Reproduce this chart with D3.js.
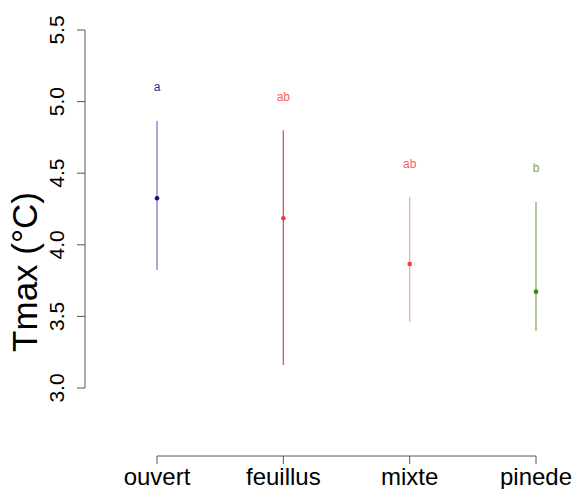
<!DOCTYPE html>
<html>
<head>
<meta charset="utf-8">
<script src="https://cdn.jsdelivr.net/npm/d3@7"></script>
<style>
  body { margin: 0; background: #fff; }
  text { font-family: "Liberation Sans", Arial, sans-serif; }
</style>
</head>
<body>
<svg id="chart" width="573" height="489"></svg>
<script>
// groups and their values
var categories = ["ouvert", "feuillus", "mixte", "pinede"];
var means      = [4.325, 4.185, 3.866, 3.673];
var lower      = [3.824, 3.16, 3.463, 3.40];
var upper      = [4.865, 4.80, 4.332, 4.301];
var letters    = ["a", "ab", "ab", "b"];
var letterPos  = [5.10, 5.03, 4.564, 4.536];
var yTicks     = [3.0, 3.5, 4.0, 4.5, 5.0, 5.5];

var lineColors   = ["#6e6ec4", "#d84a4a", "#f4a0a0", "#76a848"];
var pointColors  = ["#10108a", "#ee3a3a", "#ee3a3a", "#3a8a10"];
var letterColors = ["#2a2aa0", "#ff5a5a", "#ff5a6a", "#88aa10"];

var svg = d3.select("#chart"),
    axisColor = "#555";

var x = d3.scalePoint()
    .domain(categories)
    .range([157, 536]);

var y = d3.scaleLinear()
    .domain([3, 5.5])
    .range([388, 30]);

// ---- y axis (R style, rotated labels) ----
var yAxis = svg.append("g").attr("transform", "translate(85,0)");
yAxis.append("line")
    .attr("x1", 0).attr("x2", 0)
    .attr("y1", y(3)).attr("y2", y(5.5))
    .attr("stroke", axisColor);
yAxis.selectAll(".tick").data(yTicks).enter().append("line")
    .attr("x1", -8).attr("x2", 0)
    .attr("y1", function (d) { return y(d); })
    .attr("y2", function (d) { return y(d); })
    .attr("stroke", axisColor);
yAxis.selectAll(".lab").data(yTicks).enter().append("text")
    .attr("transform", function (d) { return "translate(-21," + y(d) + ") rotate(-90)"; })
    .attr("text-anchor", "middle")
    .attr("font-size", 21)
    .text(function (d) { return d3.format(".1f")(d); });

// title is centred on the whole plot region, not on the axis
svg.append("text")
    .attr("transform", "translate(37,272) rotate(-90)")
    .attr("text-anchor", "middle")
    .attr("font-size", 35)
    .text("Tmax (°C)");

// ---- x axis ----
var xAxis = svg.append("g").attr("transform", "translate(0,456)");
xAxis.append("line")
    .attr("x1", x(categories[0])).attr("x2", x(categories[3]))
    .attr("y1", 0).attr("y2", 0)
    .attr("stroke", axisColor);
xAxis.selectAll(".tick").data(categories).enter().append("line")
    .attr("x1", function (d) { return x(d); })
    .attr("x2", function (d) { return x(d); })
    .attr("y1", 0).attr("y2", 8)
    .attr("stroke", axisColor);
xAxis.selectAll(".lab").data(categories).enter().append("text")
    .attr("x", function (d) { return x(d); })
    .attr("y", 29)
    .attr("text-anchor", "middle")
    .attr("font-size", 24)
    .text(function (d) { return d; });

// ---- error bars, means and letters ----
var g = svg.append("g");
categories.forEach(function (c, i) {
    g.append("line")
        .attr("x1", x(c)).attr("x2", x(c))
        .attr("y1", y(lower[i])).attr("y2", y(upper[i]))
        .attr("stroke", lineColors[i])
        .attr("stroke-width", 1.2);
    g.append("circle")
        .attr("cx", x(c)).attr("cy", y(means[i]))
        .attr("r", 2.3)
        .attr("fill", pointColors[i]);
    g.append("text")
        .attr("x", x(c)).attr("y", y(letterPos[i]) + 4)
        .attr("text-anchor", "middle")
        .attr("font-size", 12)
        .attr("fill", letterColors[i])
        .text(letters[i]);
});
</script>
</body>
</html>
